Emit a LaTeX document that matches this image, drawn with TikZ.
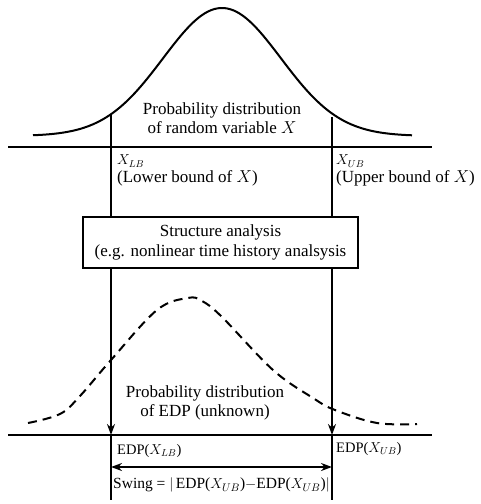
\documentclass[tikz,border=0pt]{standalone}
\usepackage{fontspec}
\setmainfont{Liberation Serif}
\usetikzlibrary{arrows.meta}
\tikzset{
  bline/.style={line width=2pt},
  lbl/.style={font=\fontsize{17}{19}\selectfont, inner sep=0pt, align=left},
  slbl/.style={font=\fontsize{14.5}{17}\selectfont, inner sep=0pt},
  cbox/.style={draw, line width=2pt, minimum width=275pt, minimum height=51pt, inner sep=0pt, align=center, font=\fontsize{17}{20}\selectfont},
  dn/.style={-{Stealth[length=11pt,width=8pt]}}
}
\begin{document}
\begin{tikzpicture}[x=1pt,y=-1pt]
\useasboundingbox (0,0) rectangle (481,504);
% Distribution of X (top)
\draw[bline, domain=33:412, samples=120]
    plot (\x, {136 - 128*exp(-0.5*((\x-222)/59)^2)});
\node[lbl, align=center] (pdfx) at (222,118) {Probability distribution\\of random variable $X$};

% Axes
\coordinate (ax1l) at (8,147);
\coordinate (ax1r) at (432,147);
\coordinate (ax2l) at (8,435);
\coordinate (ax2r) at (432,435);
\draw[bline] (ax1l) -- (ax1r);
\draw[bline] (ax2l) -- (ax2r);

% Bounds
\coordinate (lbtop) at (111,115);
\coordinate (ubtop) at (332,117);
\node[slbl, anchor=west] (xlb) at (117,161) {$X_{LB}$};
\node[lbl, anchor=west] (xlbt) at (117,178) {(Lower bound of $X$)};
\node[slbl, anchor=west] (xub) at (336,161) {$X_{UB}$};
\node[lbl, anchor=west] (xubt) at (336,178) {(Upper bound of $X$)};

% Structure analysis box
\node[cbox] (sa) at (220.5,242.5) {Structure analysis\\(e.g. nonlinear time history analsysis};

\draw[bline] (lbtop) -- (lbtop |- sa.north);
\draw[bline] (ubtop) -- (ubtop |- sa.north);
\coordinate (lbhit) at (lbtop |- ax2l);
\coordinate (ubhit) at (ubtop |- ax2l);
\draw[bline, dn] (lbtop |- sa.south) -- (lbhit);
\draw[bline, dn] (ubtop |- sa.south) -- (ubhit);
\coordinate (lbend) at (111,500);
\coordinate (ubend) at (332,500);
\draw[bline] (lbhit) -- (lbend);
\draw[bline] (ubhit) -- (ubend);

% Distribution of EDP (dashed)
\draw[bline, dash pattern=on 9pt off 6pt]
    plot[smooth, tension=0.6] coordinates {(28,423) (60,414) (80,396) (111,360) (157,310) (188,298) (202,301) (222,317) (273,370) (313,398) (335,410) (377,423) (417,424)};
\node[lbl, align=center] (pdfe) at (205,403) {Probability distribution\\of EDP (unknown)};

% EDP values and swing
\node[slbl, anchor=west] (edplb) at (117,451) {EDP($X_{LB}$)};
\node[slbl, anchor=west] (edpub) at (336,449) {EDP($X_{UB}$)};
\coordinate (swl) at (111,467);
\coordinate (swr) at (332,467);
\draw[bline, {Stealth[length=11pt,width=8pt]}-{Stealth[length=11pt,width=8pt]}] (swl) -- (swr);
\node[slbl, anchor=west, font=\fontsize{15.5}{17}\selectfont] (swing) at (113,485) {Swing = $|$\,EDP($X_{UB}$)$-$EDP($X_{UB}$)$|$};
\end{tikzpicture}
\end{document}
